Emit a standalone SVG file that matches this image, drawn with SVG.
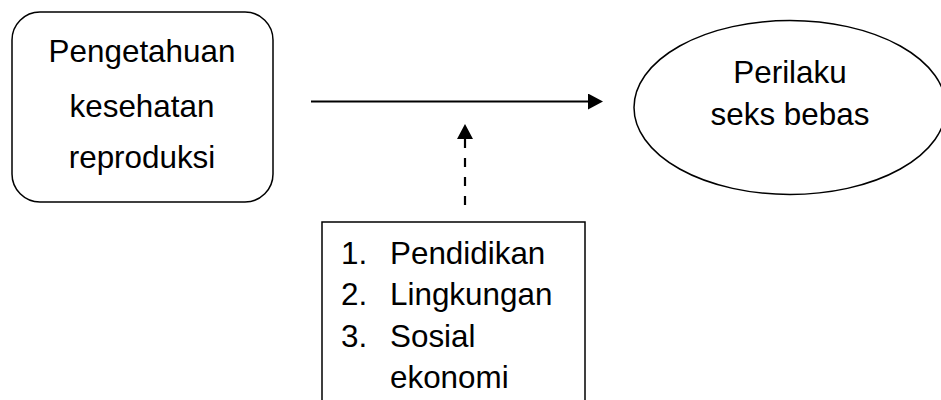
<svg xmlns="http://www.w3.org/2000/svg" width="941" height="400" viewBox="0 0 941 400">
  <style>
    .shape { fill: #ffffff; stroke: #000000; stroke-width: 1.5; }
    .label { font-family: "Liberation Sans", Arial, sans-serif; font-size: 31.4px; fill: #000000; }
    .mid { text-anchor: middle; }
    .link { stroke: #000000; stroke-width: 2.2; fill: none; }
    .dashed { stroke-dasharray: 9 10; }
  </style>
  <defs>
    <marker id="head" markerUnits="userSpaceOnUse" markerWidth="16" markerHeight="16" viewBox="0 0 16 16" refX="1" refY="8" orient="auto">
      <path d="M0,0 L15,8 L0,16 Z" fill="#000000"/>
    </marker>
  </defs>

  <!-- knowledge node -->
  <g id="pengetahuan">
    <rect class="shape" x="12" y="12" width="261" height="190" rx="28" ry="28"/>
    <text class="label mid" x="142" y="61.7">Pengetahuan</text>
    <text class="label mid" x="142" y="116.7">kesehatan</text>
    <text class="label mid" x="142" y="167.5">reproduksi</text>
  </g>

  <!-- behaviour node -->
  <g id="perilaku">
    <ellipse class="shape" cx="790" cy="107.5" rx="156" ry="87"/>
    <text class="label mid" x="790" y="83">Perilaku</text>
    <text class="label mid" x="790" y="124.5">seks bebas</text>
  </g>

  <!-- moderating factors -->
  <g id="faktor">
    <rect class="shape" x="322" y="222" width="263" height="190"/>
    <text class="label" x="341" y="263.5">1.</text>
    <text class="label" x="390" y="263.5">Pendidikan</text>
    <text class="label" x="341" y="305">2.</text>
    <text class="label" x="390" y="305">Lingkungan</text>
    <text class="label" x="341" y="346.5">3.</text>
    <text class="label" x="390" y="346.5">Sosial</text>
    <text class="label" x="390" y="388">ekonomi</text>
  </g>

  <!-- connectors -->
  <g id="connectors">
    <line class="link" x1="311" y1="101.5" x2="589" y2="101.5" marker-end="url(#head)"/>
    <line class="link dashed" x1="465" y1="205" x2="465" y2="138" marker-end="url(#head)"/>
  </g>
</svg>
